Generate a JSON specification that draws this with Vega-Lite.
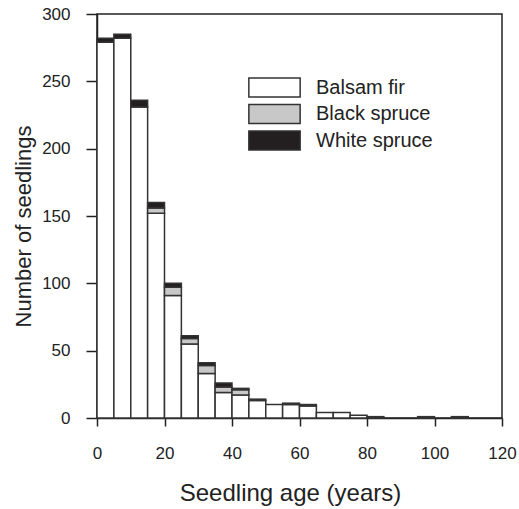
{
  "$schema": "https://vega.github.io/schema/vega-lite/v6.json",
  "autosize": "none",
  "width": 405,
  "height": 404,
  "padding": {"left": 97, "top": 14, "right": 17, "bottom": 91},
  "background": "white",
  "config": {
    "view": {"stroke": "#222222", "strokeWidth": 1.5},
    "axis": {
      "grid": false,
      "domainColor": "#222222",
      "domainWidth": 1.5,
      "tickColor": "#222222",
      "tickWidth": 1.5,
      "labelColor": "#222222",
      "labelFont": "Liberation Sans",
      "labelFontSize": 17,
      "titleFont": "Liberation Sans",
      "titleFontSize": 23,
      "titleFontWeight": "normal",
      "titleColor": "#222222"
    },
    "legend": {
      "labelFont": "Liberation Sans",
      "labelFontSize": 20,
      "labelColor": "#222222"
    }
  },
  "data": {
    "values": [
      {"start": 0, "end": 5, "species": "Balsam fir", "count": 279},
      {"start": 0, "end": 5, "species": "White spruce", "count": 3},
      {"start": 5, "end": 10, "species": "Balsam fir", "count": 282},
      {"start": 5, "end": 10, "species": "White spruce", "count": 3},
      {"start": 10, "end": 15, "species": "Balsam fir", "count": 231},
      {"start": 10, "end": 15, "species": "White spruce", "count": 5},
      {"start": 15, "end": 20, "species": "Balsam fir", "count": 152},
      {"start": 15, "end": 20, "species": "Black spruce", "count": 4},
      {"start": 15, "end": 20, "species": "White spruce", "count": 4},
      {"start": 20, "end": 25, "species": "Balsam fir", "count": 91},
      {"start": 20, "end": 25, "species": "Black spruce", "count": 6},
      {"start": 20, "end": 25, "species": "White spruce", "count": 3},
      {"start": 25, "end": 30, "species": "Balsam fir", "count": 55},
      {"start": 25, "end": 30, "species": "Black spruce", "count": 4},
      {"start": 25, "end": 30, "species": "White spruce", "count": 2},
      {"start": 30, "end": 35, "species": "Balsam fir", "count": 33},
      {"start": 30, "end": 35, "species": "Black spruce", "count": 6},
      {"start": 30, "end": 35, "species": "White spruce", "count": 2},
      {"start": 35, "end": 40, "species": "Balsam fir", "count": 19},
      {"start": 35, "end": 40, "species": "Black spruce", "count": 4},
      {"start": 35, "end": 40, "species": "White spruce", "count": 3},
      {"start": 40, "end": 45, "species": "Balsam fir", "count": 17},
      {"start": 40, "end": 45, "species": "Black spruce", "count": 4},
      {"start": 40, "end": 45, "species": "White spruce", "count": 1},
      {"start": 45, "end": 50, "species": "Balsam fir", "count": 13},
      {"start": 45, "end": 50, "species": "White spruce", "count": 1},
      {"start": 50, "end": 55, "species": "Balsam fir", "count": 10},
      {"start": 55, "end": 60, "species": "Balsam fir", "count": 10},
      {"start": 55, "end": 60, "species": "White spruce", "count": 1},
      {"start": 60, "end": 65, "species": "Balsam fir", "count": 9},
      {"start": 60, "end": 65, "species": "Black spruce", "count": 1},
      {"start": 65, "end": 70, "species": "Balsam fir", "count": 4},
      {"start": 70, "end": 75, "species": "Balsam fir", "count": 4},
      {"start": 75, "end": 80, "species": "Balsam fir", "count": 2},
      {"start": 80, "end": 85, "species": "White spruce", "count": 1},
      {"start": 95, "end": 100, "species": "White spruce", "count": 1},
      {"start": 105, "end": 110, "species": "White spruce", "count": 1}
    ]
  },
  "transform": [
    {
      "stack": "count",
      "groupby": ["start"],
      "sort": [{"field": "species", "order": "ascending"}],
      "as": ["y0", "y1"]
    }
  ],
  "mark": {"type": "bar", "stroke": "#333333", "strokeWidth": 1.5},
  "encoding": {
    "x": {
      "field": "start",
      "type": "quantitative",
      "scale": {"domain": [0, 120], "nice": false},
      "axis": {
        "title": "Seedling age (years)",
        "values": [0, 20, 40, 60, 80, 100, 120],
        "tickSize": 8,
        "labelPadding": 19,
        "titlePadding": 20,
        "titleFontSize": 24,
        "titleX": 193,
        "labelFlush": false
      }
    },
    "x2": {"field": "end"},
    "y": {
      "field": "y0",
      "type": "quantitative",
      "scale": {"domain": [0, 300], "nice": false},
      "axis": {
        "title": "Number of seedlings",
        "values": [0, 50, 100, 150, 200, 250, 300],
        "tickSize": 11,
        "labelPadding": 16,
        "titlePadding": 6,
        "titleFontSize": 22,
        "titleY": 212,
        "labelFlush": false
      }
    },
    "y2": {"field": "y1"},
    "color": {
      "field": "species",
      "type": "nominal",
      "scale": {
        "domain": ["Balsam fir", "Black spruce", "White spruce"],
        "range": ["#ffffff", "#c8c8c8", "#231f20"]
      },
      "legend": {
        "title": null,
        "orient": "none",
        "legendX": 167,
        "legendY": 63,
        "padding": 0,
        "symbolType": "M-2.7,-1H2.7V1H-2.7Z",
        "symbolSize": 361,
        "symbolStrokeColor": "#333333",
        "symbolStrokeWidth": 1.5,
        "symbolOffset": 0,
        "labelOffset": 31,
        "rowPadding": 1.5
      }
    }
  }
}
